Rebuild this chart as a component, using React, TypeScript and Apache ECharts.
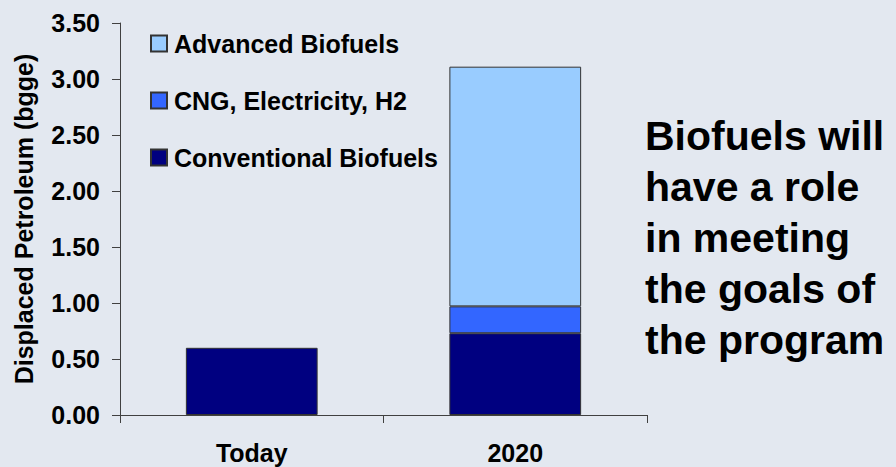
import React, { useEffect, useRef } from "react";
import * as echarts from "echarts";

const categories = ["Today", "2020"];
const conventionalBiofuels = [0.6, 0.73];
const cngElectricityH2 = [null, 0.24];
const advancedBiofuels = [null, 2.14];
const legendOrder = ["Advanced Biofuels", "CNG, Electricity, H2", "Conventional Biofuels"];
const yAxisName = "Displaced Petroleum (bgge)";
const sideNote = "Biofuels will\nhave a role\nin meeting\nthe goals of\nthe program";

const FONT = '"Liberation Sans", Arial, sans-serif';

export default function App() {
  const ref = useRef<HTMLDivElement>(null);
  useEffect(() => {
    if (!ref.current) return;
    const chart = echarts.init(ref.current, undefined, { renderer: "svg" });
    const border = { borderColor: "#333333", borderWidth: 1 };
    chart.setOption({
      animation: false,
      backgroundColor: "#E3E8F0",
      textStyle: { fontFamily: FONT },
      grid: { left: 120, right: 249, top: 23, bottom: 52, containLabel: false },
      legend: {
        data: legendOrder,
        orient: "vertical",
        left: 150,
        top: 31,
        padding: 0,
        itemWidth: 16,
        itemHeight: 16,
        itemGap: 32,
        icon: "rect",
        textStyle: {
          fontFamily: FONT,
          fontSize: 25,
          fontWeight: "bold",
          color: "#000",
          padding: [0, 0, 0, 2],
        },
      },
      xAxis: {
        type: "category",
        data: categories,
        boundaryGap: true,
        axisLine: { lineStyle: { color: "#404040", width: 1 } },
        axisTick: { show: true, length: 8, alignWithLabel: false, lineStyle: { color: "#404040" } },
        axisLabel: { fontFamily: FONT, fontSize: 25, fontWeight: "bold", color: "#000", margin: 25 },
        splitLine: { show: false },
      },
      yAxis: {
        type: "value",
        min: 0,
        max: 3.5,
        interval: 0.5,
        name: yAxisName,
        nameLocation: "middle",
        nameGap: 84,
        nameRotate: 90,
        nameTextStyle: { fontFamily: FONT, fontSize: 25, fontWeight: "bold", color: "#000" },
        axisLine: { show: true, lineStyle: { color: "#404040", width: 1 } },
        axisTick: { show: true, length: 8, lineStyle: { color: "#404040" } },
        axisLabel: {
          fontFamily: FONT,
          fontSize: 25,
          fontWeight: "bold",
          color: "#000",
          margin: 20,
          formatter: (v: number) => v.toFixed(2),
        },
        splitLine: { show: false },
      },
      series: [
        {
          name: "Conventional Biofuels",
          type: "bar",
          stack: "total",
          barWidth: "50%",
          data: conventionalBiofuels,
          itemStyle: { color: "#000080", ...border },
        },
        {
          name: "CNG, Electricity, H2",
          type: "bar",
          stack: "total",
          barWidth: "50%",
          data: cngElectricityH2,
          itemStyle: { color: "#3366FF", ...border },
        },
        {
          name: "Advanced Biofuels",
          type: "bar",
          stack: "total",
          barWidth: "50%",
          data: advancedBiofuels,
          itemStyle: { color: "#99CCFF", ...border },
        },
      ],
      graphic: [
        {
          type: "text",
          left: 645,
          top: 110,
          style: {
            text: sideNote,
            fontFamily: FONT,
            fontSize: 41,
            fontWeight: "bold",
            lineHeight: 51,
            fill: "#000",
          },
        },
      ],
    });
    return () => chart.dispose();
  }, []);
  return (
    <div
      ref={ref}
      style={{ position: "fixed", left: 0, top: 0, width: 896, height: 467 }}
    />
  );
}
